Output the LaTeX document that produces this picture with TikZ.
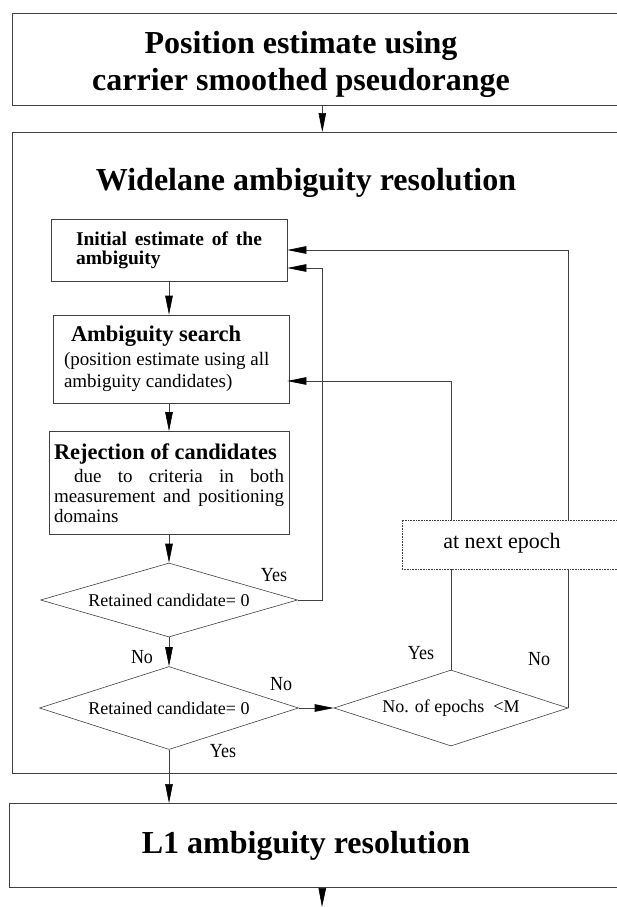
\documentclass[tikz,border=0pt]{standalone}
\usepackage{fontspec}
\setmainfont{Liberation Serif}
\newfontfamily\narrowfont[FakeStretch=0.9]{Liberation Serif}
\usetikzlibrary{arrows.meta,shapes.geometric}
\begin{document}
\begin{tikzpicture}[x=1pt,y=-1pt,
    link/.style={draw=black!75, line width=0.6pt},
    flow/.style={link, -{Triangle[length=19pt,width=7.5pt,color=black]}},
    bigbox/.style={link, anchor=north west, inner sep=0pt},
    stepbox/.style={link, inner sep=0pt, align=flush left, font=\fontsize{19}{20}\selectfont},
    decision/.style={link, diamond, aspect=3.5, inner sep=0pt, font=\fontsize{18}{20}\selectfont},
    answer/.style={anchor=base, font=\narrowfont\fontsize{20}{22}\selectfont},
    heading/.style={font=\fontsize{32}{37}\selectfont\bfseries, align=center}
  ]
  \useasboundingbox (0,0) rectangle (617,907);

  \node[bigbox, minimum width=620pt, minimum height=92pt] (posbox) at (12,13) {};
  \node[bigbox, minimum width=620pt, minimum height=641pt] (widebox) at (12,132) {};
  \node[bigbox, minimum width=626pt, minimum height=84pt] (lonebox) at (9,803) {};
  \node[heading] (postitle) at (301,64) {Position estimate using\\carrier smoothed pseudorange};
  \node[heading, anchor=base] (widetitle) at (306,190) {Widelane ambiguity resolution};
  \node[heading, anchor=base] (lonetitle) at (306,853) {L1 ambiguity resolution};

  \node[stepbox, text width=186pt, minimum width=236pt, minimum height=62pt, font=\fontsize{19.5}{19}\selectfont\bfseries] (initbox) at (169,250) {\makebox[186pt][s]{Initial estimate of the}\\ambiguity};
  \node[stepbox, text width=214pt, minimum width=236pt, minimum height=88pt, font=\fontsize{19}{22}\selectfont] (searchbox) at (171,359) {{\fontsize{22.5}{24}\selectfont\bfseries\hspace*{7pt}Ambiguity search}\\[2pt](position estimate using all\\ambiguity candidates)};
  \node[stepbox, text width=230pt, minimum width=240pt, minimum height=103pt, font=\fontsize{19}{20}\selectfont] (rejbox) at (169,483) {{\fontsize{22.4}{24}\selectfont\bfseries Rejection of candidates}\\[3pt]\makebox[230pt][s]{\hspace*{20pt}due to criteria in both}\\\makebox[230pt][s]{measurement and positioning}\\domains};

  \node[decision, minimum width=257pt, minimum height=74pt] (retone) at (169,600) {Retained candidate= 0};
  \node[decision, minimum width=259pt, minimum height=83pt] (rettwo) at (169,708) {Retained candidate= 0};
  \node[decision, minimum width=234pt, minimum height=76pt] (epochs) at (451,708) {No. of epochs \ <M};
  \node[link, densely dotted, minimum width=238pt, minimum height=49pt, inner sep=0pt] (nextbox) at (521,544.5) {};
  \node[anchor=base, font=\fontsize{22}{24}\selectfont] (nexttext) at (502,548) {at next epoch};

  \node[answer] (yesone) at (274,581) {Yes};
  \node[answer] (noone) at (142,663) {No};
  \node[answer] (notwo) at (281,690) {No};
  \node[answer] (yestwo) at (223,757) {Yes};
  \node[answer] (yesthree) at (421,659) {Yes};
  \node[answer] (nothree) at (539,665) {No};

  \coordinate (outend) at (322,907);
  \draw[flow] (posbox.south) -- (widebox.north);
  \draw[flow] (initbox) -- (initbox |- searchbox.north);
  \draw[flow] (initbox |- searchbox.south) -- (rejbox);
  \draw[flow] (rejbox) -- (retone);
  \draw[flow] (retone) -- (rettwo);
  \draw[flow] (rettwo) -- (rettwo |- lonebox.north);
  \draw[flow] (lonebox.south) -- (outend);
  \draw[flow] (rettwo) -- (epochs);
  \draw[flow] (retone.east) -- ++(24,0) |- ([yshift=-18pt]initbox.east);
  \draw[link] (epochs.north) -- (epochs.north |- nextbox.south);
  \draw[flow] (epochs.north |- nextbox.north) |- ([yshift=-22pt]initbox.east |- searchbox.east);
  \draw[link] (epochs.east) -- (epochs.east |- nextbox.south);
  \draw[flow] (epochs.east |- nextbox.north) |- (initbox.east);
\end{tikzpicture}
\end{document}
